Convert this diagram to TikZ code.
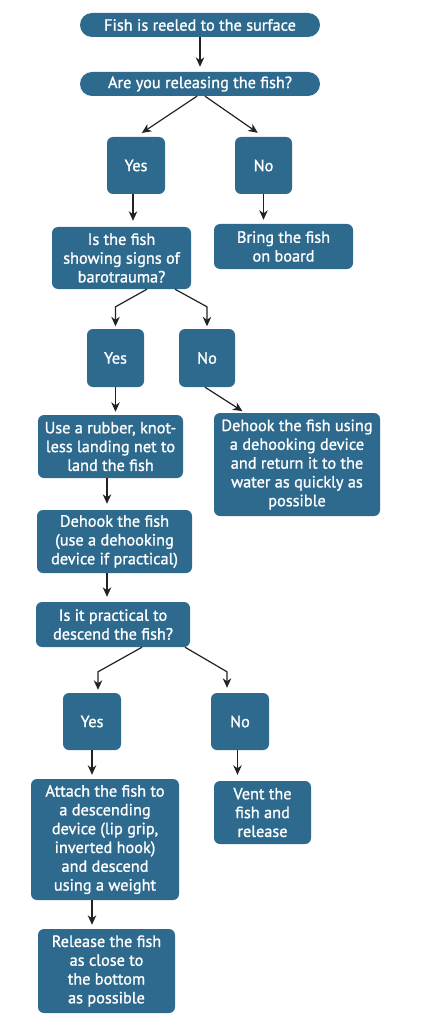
\documentclass[tikz,border=0pt]{standalone}
\usepackage{fontspec}
\setmainfont{PT Sans}
\newfontfamily\medfont{PT Sans}[FakeBold=1.2]
\usetikzlibrary{arrows.meta}
\definecolor{boxblue}{HTML}{2D6A8E}
\definecolor{arrowgray}{HTML}{222222}
\tikzset{
  fbox/.style={fill=boxblue, text=white, rounded corners=6pt, inner sep=0pt,
    align=center, font=\medfont\fontsize{16.3}{18.8}\selectfont},
  pill/.style={fbox, rounded corners=12pt},
  arr/.style={draw=arrowgray, line width=1.2pt, -{Stealth[length=9.5pt,width=8.5pt,inset=3pt]}, shorten >=5pt},
}
\begin{document}
\begin{tikzpicture}[x=1pt,y=-1pt]
\useasboundingbox (0,0) rectangle (420,1024);
\fill[white] (0,0) rectangle (420,1024);

\node[pill, minimum width=240pt, minimum height=24pt] (reel) at (200,25) {Fish is reeled to the surface};
\node[pill, minimum width=240pt, minimum height=24pt] (rel) at (200,84) {Are you releasing the fish?};
\node[fbox, minimum width=58pt, minimum height=57pt] (yes1) at (136,165.5) {Yes};
\node[fbox, minimum width=57pt, minimum height=57pt] (no1) at (263.5,165.5) {No};
\node[fbox, minimum width=139pt, minimum height=62pt] (baro) at (121.5,258) {Is the fish\\showing signs of\\barotrauma?};
\node[fbox, minimum width=139pt, minimum height=45pt] (bring) at (283.5,246.5) {Bring the fish\\on board};
\node[fbox, minimum width=57pt, minimum height=58pt] (yes2) at (115.5,358) {Yes};
\node[fbox, minimum width=56pt, minimum height=58pt] (no2) at (207,358) {No};
\node[fbox, minimum width=145pt, minimum height=63pt] (net) at (110.5,446.5) {Use a rubber, knot-\\less landing net to\\land the fish};
\node[fbox, minimum width=166pt, minimum height=103pt] (dehookr) at (297,464.5) {Dehook the fish using\\a dehooking device\\and return it to the\\water as quickly as\\possible};
\node[fbox, minimum width=155pt, minimum height=63pt] (dehook) at (114.5,541.5) {Dehook the fish\\(use a dehooking\\device if practical)};
\node[fbox, minimum width=154pt, minimum height=45pt] (prac) at (113,624.5) {Is it practical to\\descend the fish?};
\node[fbox, minimum width=58pt, minimum height=57pt] (yes3) at (92,721.5) {Yes};
\node[fbox, minimum width=58pt, minimum height=57pt] (no3) at (240,721.5) {No};
\node[fbox, minimum width=148pt, minimum height=121pt] (attach) at (105,839.5) {Attach the fish to\\a descending\\device (lip grip,\\inverted hook)\\and descend\\using a weight};
\node[fbox, minimum width=97pt, minimum height=63pt] (vent) at (262.5,812.5) {Vent the\\fish and\\release};
\node[fbox, minimum width=137pt, minimum height=84pt] (release) at (106.5,971) {Release the fish\\as close to\\the bottom\\as possible};

\draw[arr] (reel) -- (rel);
\draw[arr, shorten >=7pt] ([xshift=-3pt]rel.south) -- (yes1.north);
\draw[arr, shorten >=7pt] ([xshift=5pt]rel.south) -- (no1.north);
\draw[arr, shorten >=6pt] ([xshift=-3pt]yes1.south) -- ([xshift=-3pt]yes1.south |- baro.north);
\draw[arr, shorten >=4pt] (no1.south) -- (no1.south |- bring.north);
\draw[arr, shorten >=2.5pt] ([xshift=25.5pt]baro.south) -- ([yshift=22pt]yes2.north) -- (yes2.north);
\draw[arr, shorten >=2.5pt] ([xshift=53.5pt]baro.south) -- ([yshift=22pt]no2.north) -- (no2.north);
\draw[arr, shorten >=3pt] ([xshift=-2pt]no2.south) -- ([xshift=-52pt]dehookr.north);
\draw[arr, shorten >=3pt] (yes2.south) -- (yes2.south |- net.north);
\draw[arr, shorten >=6pt] ([xshift=-3.5pt]net.south) -- ([xshift=-3.5pt]net.south |- dehook.north);
\draw[arr, shorten >=5pt] ([xshift=-7.5pt]dehook.south) -- ([xshift=-7.5pt]dehook.south |- prac.north);
\draw[arr, shorten >=3pt] ([xshift=29pt]prac.south) -- ([yshift=21pt,xshift=6pt]yes3.north) -- ([xshift=6pt]yes3.north);
\draw[arr, shorten >=5pt] ([xshift=72pt]prac.south) -- ([yshift=21pt,xshift=-13pt]no3.north) -- ([xshift=-13pt]no3.north);
\draw[arr, shorten >=4pt] (yes3.south) -- (yes3.south |- attach.north);
\draw[arr, shorten >=6pt] ([xshift=-2.5pt]no3.south) -- ([xshift=-2.5pt]no3.south |- vent.north);
\draw[arr, shorten >=4pt] ([xshift=-13pt]attach.south) -- ([xshift=-13pt]attach.south |- release.north);
\end{tikzpicture}
\end{document}
